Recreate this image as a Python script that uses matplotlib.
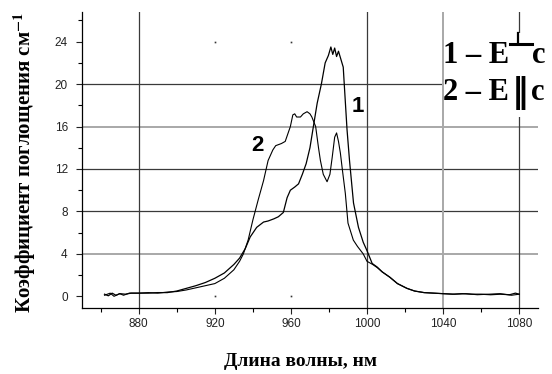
import matplotlib
matplotlib.use("Agg")
import matplotlib.pyplot as plt
from matplotlib.patches import Rectangle
from matplotlib.lines import Line2D
from matplotlib.ticker import MultipleLocator

"""absorption spectra, two polarisations (values read off the scanned figure)"""

# curve 1: E perpendicular c
wl_1 = [862, 864, 866, 868, 870, 873, 876, 880, 885, 890, 895, 900, 905, 910,
        915, 920, 925, 930, 933, 936, 938.6, 942, 945.6, 948, 951, 953.4, 956,
        958, 959.7, 962, 964, 966, 968, 970, 971.8, 973.8, 976, 978, 979.7,
        981, 982, 983, 984, 985, 986, 987.5, 988, 989.5, 990.8, 992.9, 995.5,
        998, 1000, 1002.7, 1005.4, 1008, 1012, 1016, 1021, 1025, 1030, 1035,
        1040, 1045, 1050, 1055, 1060, 1065, 1070, 1075, 1078, 1080]
k_1 = [0.2, 0.05, 0.3, 0.1, 0.25, 0.2, 0.3, 0.3, 0.3, 0.35, 0.35, 0.5, 0.75,
       1.0, 1.3, 1.7, 2.2, 3.0, 3.6, 4.5, 5.6, 6.5, 7.0, 7.1, 7.3, 7.5, 7.9,
       9.3, 10.0, 10.3, 10.6, 11.5, 12.5, 14.0, 16.0, 18.2, 20.0, 22.0, 22.7,
       23.5, 22.8, 23.4, 22.6, 23.1, 22.5, 21.6, 20.1, 15.7, 12.8, 8.8, 6.5,
       5.1, 4.3, 3.1, 2.75, 2.3, 1.8, 1.2, 0.75, 0.5, 0.35, 0.3, 0.25, 0.2,
       0.25, 0.2, 0.2, 0.15, 0.2, 0.15, 0.3, 0.2]

# curve 2: E parallel c
wl_2 = [862, 865, 867, 870, 872, 875, 880, 885, 890, 895, 900, 905, 910, 915,
        920, 925, 930, 933, 935, 937.5, 940, 942.8, 945.6, 948, 950.5, 952,
        955, 957, 959.7, 961, 962, 963, 965, 966.5, 968.5, 970, 971, 973,
        974.5, 975.5, 977, 979, 980.5, 981.7, 983, 984, 985, 986, 987, 988.6,
        990, 992.8, 995, 998, 1000, 1003, 1005.4, 1008, 1012, 1016, 1021, 1025,
        1030, 1035, 1040, 1046, 1052, 1058, 1064, 1070, 1076, 1080]
k_2 = [0.1, 0.3, 0.0, 0.25, 0.1, 0.3, 0.3, 0.35, 0.3, 0.4, 0.45, 0.6, 0.8, 1.0,
       1.2, 1.7, 2.5, 3.3, 4.0, 5.3, 7.2, 9.1, 10.9, 12.8, 13.8, 14.2, 14.4,
       14.6, 16.0, 17.1, 17.2, 16.9, 16.9, 17.2, 17.4, 17.2, 16.9, 16.0, 14.0,
       12.8, 11.5, 10.8, 11.5, 13.1, 15.0, 15.4, 14.6, 13.5, 12.0, 9.7, 6.9,
       5.3, 4.7, 4.0, 3.3, 3.0, 2.7, 2.3, 1.8, 1.2, 0.75, 0.5, 0.35, 0.3, 0.25,
       0.2, 0.25, 0.15, 0.2, 0.25, 0.1, 0.2]

x_ticks = [880, 920, 960, 1000, 1040, 1080]
y_ticks = [0, 4, 8, 12, 16, 20, 24]
dark_grid_y = [8, 12, 20]
grey_grid_y = [4, 16]
dark_grid_x = [880, 1000, 1080]
grey_grid_x = [1040]
dot_x = [920, 960, 920, 960]
dot_y = [24, 24, 0, 0]

fig = plt.figure(figsize=(5.52, 3.74), dpi=100)
ax = fig.add_axes([0.148, 0.1765, 0.827, 0.7915])

for y in dark_grid_y:
    ax.axhline(y, color='#3a3a3a', lw=0.9, zorder=1)
for y in grey_grid_y:
    ax.axhline(y, color='#a8a8a8', lw=1.4, zorder=1)
for x in dark_grid_x:
    ax.axvline(x, color='#3a3a3a', lw=0.9, zorder=1)
for x in grey_grid_x:
    ax.axvline(x, color='#a8a8a8', lw=1.4, zorder=1)
ax.plot(dot_x, dot_y, 's', ms=1.2, color='#333333', mew=0, zorder=1)

ax.plot(wl_1, k_1, color='black', lw=0.9, zorder=3)
ax.plot(wl_2, k_2, color='black', lw=0.8, zorder=3)

ax.set_xlim(850, 1090)
ax.set_ylim(-1.1, 26.8)
ax.set_xticks(x_ticks)
ax.set_yticks(y_ticks)
ax.xaxis.set_minor_locator(MultipleLocator(20))
ax.yaxis.set_minor_locator(MultipleLocator(2))
ax.tick_params(which='major', direction='out', length=4, width=0.8,
               labelsize=8.5, colors='#222222')
ax.tick_params(axis='y', pad=6)
ax.tick_params(axis='x', pad=3)
ax.tick_params(which='minor', direction='out', length=3, width=0.8)
for lab in ax.get_xticklabels() + ax.get_yticklabels():
    lab.set_family('Liberation Sans')
for s in ['top', 'right']:
    ax.spines[s].set_visible(False)
for s in ['left', 'bottom']:
    ax.spines[s].set_linewidth(0.9)

ax.text(995, 17.9, '1', fontsize=16, fontweight='bold', family='Liberation Sans',
        ha='center', va='center', zorder=4)
ax.text(942.3, 14.2, '2', fontsize=16, fontweight='bold', family='Liberation Sans',
        ha='center', va='center', zorder=4)

plt.rcParams['mathtext.fontset'] = 'stix'
fig.text(25 / 552, 0.565, 'Коэффициент поглощения см$^{\\mathbf{-1}}$',
         rotation=90, ha='center', va='center', fontsize=15, fontweight='bold',
         family='Liberation Serif')
fig.text(300 / 552, 1 - 362 / 374, 'Длина волны, нм', ha='center', va='center',
         fontsize=14, fontweight='bold', family='Liberation Serif')

# white box behind the polarisation key
fig.patches.append(Rectangle((444 / 552, 1 - 117 / 374), 108 / 552, 84 / 374,
                             transform=fig.transFigure, facecolor='white',
                             edgecolor='none', zorder=2))
key_font = dict(fontsize=22, fontweight='bold', va='baseline', ha='left',
                family=['Liberation Serif', 'DejaVu Serif'], zorder=5)
fig.text(443 / 552, 1 - 63 / 374, '1 – E', **key_font)
# raised perpendicular sign, drawn as two strokes
fig.lines.append(Line2D([510 / 552, 532 / 552], [1 - 44 / 374, 1 - 44 / 374],
                        transform=fig.transFigure, color='black', lw=2.2,
                        zorder=5))
fig.lines.append(Line2D([518 / 552, 518 / 552], [1 - 33 / 374, 1 - 44 / 374],
                        transform=fig.transFigure, color='black', lw=1.6,
                        zorder=5))
fig.text(532 / 552, 1 - 63 / 374, 'c', **key_font)
fig.text(443 / 552, 1 - 100 / 374, '2 – E', **key_font)
fig.text(512 / 552, 1 - 102 / 374, '‖', fontsize=24, fontweight='bold',
         va='baseline', ha='left', family='DejaVu Sans', zorder=5)
fig.text(531 / 552, 1 - 100 / 374, 'c', **key_font)

fig.savefig('out.png', dpi=100)
